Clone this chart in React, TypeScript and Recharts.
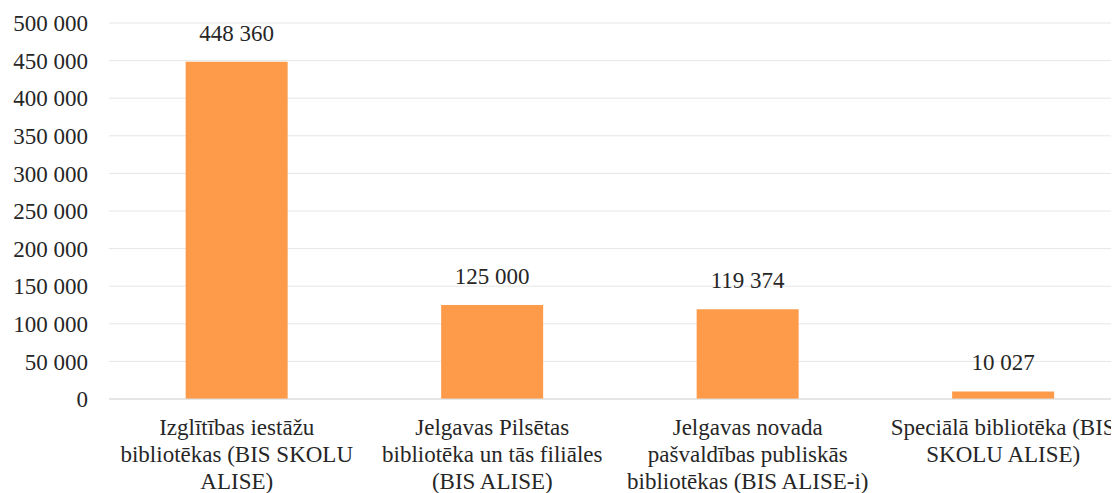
import { BarChart, Bar, XAxis, YAxis, CartesianGrid, LabelList } from 'recharts';

const categories = [
    'Izglītības iestāžu bibliotēkas (BIS SKOLU ALISE)',
    'Jelgavas Pilsētas bibliotēka un tās filiāles (BIS ALISE)',
    'Jelgavas novada pašvaldības publiskās bibliotēkas (BIS ALISE-i)',
    'Speciālā bibliotēka (BIS SKOLU ALISE)',
];

// how the category names are broken into lines under the axis
const categoryLines = [
    ['Izglītības iestāžu', 'bibliotēkas (BIS SKOLU', 'ALISE)'],
    ['Jelgavas Pilsētas', 'bibliotēka un tās filiāles', '(BIS ALISE)'],
    ['Jelgavas novada', 'pašvaldības publiskās', 'bibliotēkas (BIS ALISE-i)'],
    ['Speciālā bibliotēka (BIS', 'SKOLU ALISE)'],
];

const values = [448360, 125000, 119374, 10027];

const yTicks = [0, 50000, 100000, 150000, 200000, 250000, 300000, 350000, 400000, 450000, 500000];

const FONT = 'Liberation Serif, Times New Roman, DejaVu Serif, serif';
const FONT_SIZE = 23;
const TEXT_COLOR = '#262626';
const BAR_COLOR = '#FE9B4A';

const data = categories.map((name, i) => ({ name, lines: categoryLines[i], value: values[i] }));

// 448360 -> "448 360"
const fmt = (v: number) => String(v).replace(/\B(?=(\d{3})+(?!\d))/g, ' ');

const CategoryTick = (props: any) => {
    const { x, y, index } = props;
    const lines = categoryLines[index] || [];
    return (
        <text x={x} y={y} textAnchor="middle" fill={TEXT_COLOR} style={{ fontSize: FONT_SIZE, fontFamily: FONT }}>
            {lines.map((line, i) => (
                <tspan key={i} x={x} y={y + 36 + i * 27}>
                    {line}
                </tspan>
            ))}
        </text>
    );
};

const ValueLabel = (props: any) => {
    const { x, y, width, value } = props;
    return (
        <text
            x={x + width / 2}
            y={y - 21}
            textAnchor="middle"
            fill={TEXT_COLOR}
            style={{ fontSize: FONT_SIZE, fontFamily: FONT }}
        >
            {fmt(value)}
        </text>
    );
};

export default function App() {
    return (
        <div style={{ width: 1111, height: 485, overflow: 'hidden', fontFamily: FONT }}>
            <BarChart
                width={1123}
                height={485}
                data={data}
                margin={{ top: 15, right: 0, bottom: 0, left: 0 }}
                barCategoryGap="30%"
                style={{ fontFamily: FONT }}
            >
                <CartesianGrid vertical={false} stroke="#E6E6E6" />
                <XAxis
                    dataKey="name"
                    height={94}
                    tickLine={false}
                    tickSize={0}
                    tickMargin={0}
                    axisLine={{ stroke: '#D9D9D9' }}
                    interval={0}
                    tick={<CategoryTick />}
                />
                <YAxis
                    width={101}
                    domain={[0, 500000]}
                    ticks={yTicks}
                    interval={0}
                    axisLine={false}
                    tickLine={false}
                    tickSize={0}
                    tickMargin={21}
                    tickFormatter={fmt}
                    tick={{ fill: TEXT_COLOR, fontSize: FONT_SIZE, style: { fontFamily: FONT } }}
                />
                <Bar dataKey="value" fill={BAR_COLOR} isAnimationActive={false}>
                    <LabelList dataKey="value" content={<ValueLabel />} />
                </Bar>
            </BarChart>
        </div>
    );
}
